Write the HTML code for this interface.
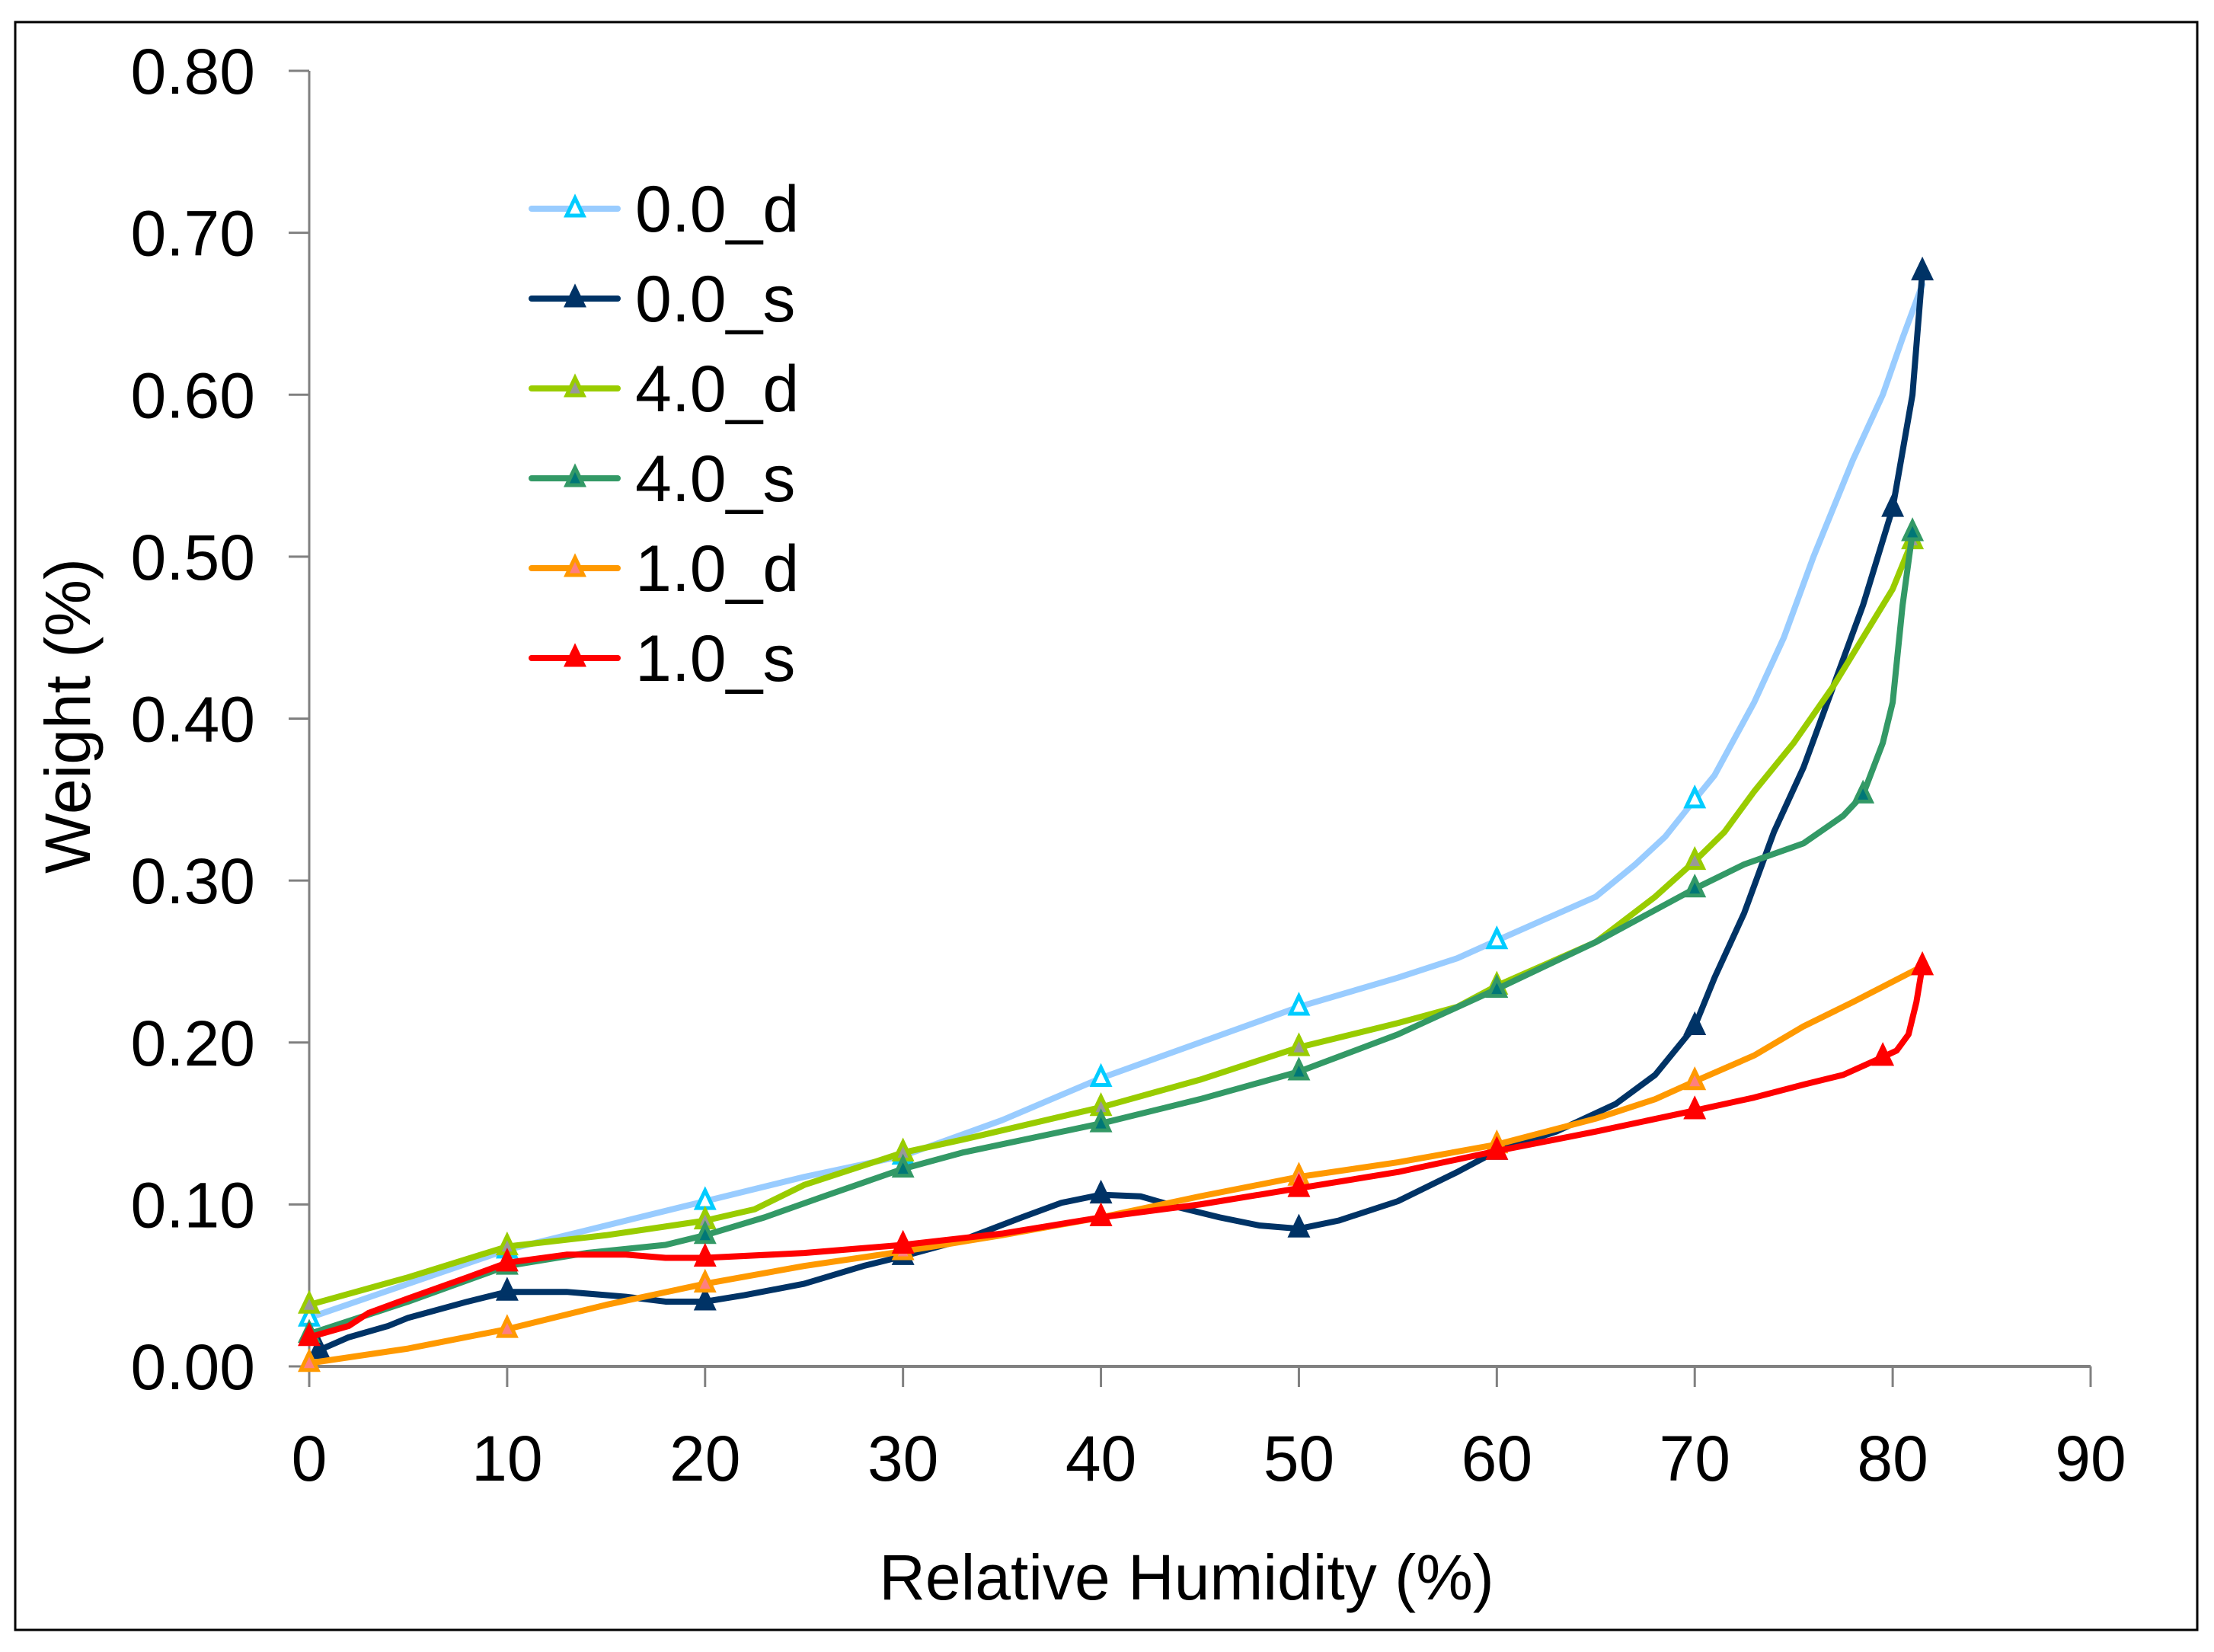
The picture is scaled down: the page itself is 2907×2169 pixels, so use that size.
<!DOCTYPE html>
<html><head><meta charset="utf-8"><style>
html,body{margin:0;padding:0;background:#fff}
svg{display:block;font-family:"Liberation Sans",Arial,sans-serif}
</style></head><body>
<svg id="chart" width="2907" height="2169" viewBox="0 0 2907 2169" xmlns="http://www.w3.org/2000/svg">
<rect x="20" y="29" width="2865" height="2111" fill="#fff" stroke="#000" stroke-width="3"/>
<g id="axes"></g>
<g id="series"></g>
<g id="legend"></g>
<text x="1558" y="2100" font-size="84" text-anchor="middle">Relative Humidity (%)</text>
<text x="0" y="0" font-size="84" text-anchor="middle" transform="translate(118,940) rotate(-90)">Weight (%)</text>
</svg>
<script>
const xTicks=[0,10,20,30,40,50,60,70,80,90];
const yTicks=[0,0.1,0.2,0.3,0.4,0.5,0.6,0.7,0.8];
const yTickLabels=["0.00","0.10","0.20","0.30","0.40","0.50","0.60","0.70","0.80"];
const seriesNames=["0.0_d","0.0_s","4.0_d","4.0_s","1.0_d","1.0_s"];
const s00dX=[0,10,20,25,30,35,40,45,50,55,58,60,65,67,68.5,70,71,73,74.5,76,78,79.5,80.5,81.5];
const s00dY=[0.03,0.072,0.102,0.117,0.13,0.152,0.178,0.2,0.222,0.24,0.252,0.263,0.29,0.31,0.327,0.35,0.365,0.41,0.45,0.5,0.56,0.6,0.635,0.668];
const s00sX=[0.5,2,4,5,8,10,13,16,18,20,22,25,28,30,33,36,38,40,42,44,46,48,50,52,55,58,60,63,66,68,70,71,72.5,74,75.5,77,78.5,80,81,81.5];
const s00sY=[0.01,0.018,0.025,0.03,0.04,0.046,0.046,0.043,0.04,0.04,0.044,0.051,0.062,0.068,0.078,0.092,0.101,0.106,0.105,0.098,0.092,0.087,0.085,0.09,0.102,0.12,0.133,0.145,0.162,0.18,0.21,0.24,0.28,0.33,0.37,0.42,0.47,0.53,0.6,0.676];
const s40dX=[0,5,10,15,20,22.5,25,30,33,40,45,50,55,58,60,65,68,70,71.5,73,75,77,78.5,80,81];
const s40dY=[0.038,0.055,0.074,0.081,0.09,0.097,0.112,0.132,0.14,0.16,0.177,0.197,0.212,0.222,0.235,0.262,0.29,0.312,0.33,0.355,0.385,0.42,0.45,0.48,0.51];
const s40sX=[0,5,10,14,18,20,23,26,30,33,40,45,50,55,60,65,70,72.5,75.5,77.5,78.5,79.5,80,80.5,81];
const s40sY=[0.02,0.04,0.062,0.07,0.075,0.081,0.092,0.105,0.122,0.132,0.15,0.165,0.182,0.205,0.233,0.262,0.295,0.31,0.323,0.34,0.353,0.385,0.41,0.47,0.515];
const s10dX=[0,5,10,15,20,25,30,35,40,45,50,55,60,65,68,70,73,75.5,78,81.5];
const s10dY=[0.002,0.011,0.023,0.038,0.051,0.062,0.071,0.081,0.092,0.105,0.117,0.126,0.137,0.153,0.165,0.176,0.192,0.21,0.225,0.247];
const s10sX=[0,2,3,5,8,10,13,16,18,20,25,30,35,40,45,50,55,60,65,70,73,75.5,77.5,79.5,80.2,80.8,81.2,81.5];
const s10sY=[0.018,0.025,0.033,0.042,0.055,0.064,0.069,0.069,0.067,0.067,0.07,0.075,0.082,0.092,0.1,0.11,0.12,0.133,0.145,0.158,0.166,0.174,0.18,0.191,0.195,0.205,0.225,0.247];
const markerX=[[0,10,20,30,40,50,60,70],[0.5,10,20,30,40,50,60,70,80,81.5],[0,10,20,30,40,50,60,70,81],[0,10,20,30,40,50,60,70,78.5,81],[0,10,20,30,40,50,60,70,81.5],[0,10,20,30,40,50,60,70,79.5,81.5]];

const NS="http://www.w3.org/2000/svg";
const X0=406,X1=2745,Y0=1794,Y1=93;
const xs=v=>X0+(v-0)/90*(X1-X0);
const ys=v=>Y0-(v-0)/0.8*(Y0-Y1);
function mk(tag,attrs,parent){const e=document.createElementNS(NS,tag);for(const k in attrs)e.setAttribute(k,attrs[k]);parent.appendChild(e);return e;}
const axes=document.getElementById('axes');
let a=mk('line',{x1:X0,y1:Y1,x2:X0,y2:Y0,stroke:'#808080','stroke-width':3},axes);


a=mk('line',{x1:X0,y1:Y0,x2:X1,y2:Y0,stroke:'#808080','stroke-width':4},axes);


yTicks.forEach((t,i)=>{
  const y=ys(t);
  const l=mk('line',{x1:X0-27,y1:y,x2:X0,y2:y,stroke:'#808080','stroke-width':3},axes);
  
  
  const tx=mk('text',{x:335,y:y+30,'font-size':84,'text-anchor':'end'},axes);
  tx.textContent=yTickLabels[i];
  
  
});
xTicks.forEach(t=>{
  const x=xs(t);
  const l=mk('line',{x1:x,y1:Y0,x2:x,y2:Y0+27,stroke:'#808080','stroke-width':3},axes);
  
  
  const tx=mk('text',{x:x,y:1944,'font-size':84,'text-anchor':'middle'},axes);
  tx.textContent=String(t);
  
  
});
const colors=['#99CCFF','#003366','#99CC00','#339966','#FF9900','#FF0000'];
const mfill=['#fff','#003366','#999999','#007777','#FF7F7F','#FF0000'];
const mstroke=['#00CCFF','#003366','#99CC00','#339966','#FF9900','#FF0000'];
const data=[[s00dX,s00dY],[s00sX,s00sY],[s40dX,s40dY],[s40sX,s40sY],[s10dX,s10dY],[s10sX,s10sY]];
const sg=document.getElementById('series');
function tri(cx,cy,i,parent){
  const p=mk('path',{d:`M${cx},${cy-14} L${cx+11},${cy+9} L${cx-11},${cy+9} Z`,fill:mfill[i],stroke:mstroke[i],'stroke-width':5,'stroke-linejoin':'miter'},parent);
  
  
}
data.forEach((d,i)=>{
  const g=mk('g',{},sg);
  
  
  const pts=d[0].map((x,j)=>xs(x)+','+ys(d[1][j])).join(' ');
  const pl=mk('polyline',{points:pts,fill:'none',stroke:colors[i],'stroke-width':8,'stroke-linejoin':'round','stroke-linecap':'round'},g);
  
  
  d[0].forEach((x,j)=>{
    if(markerX[i].includes(x)) tri(xs(x),ys(d[1][j]),i,g);
  });
});
const lg=document.getElementById('legend');
seriesNames.forEach((n,i)=>{
  const y=274+i*118;
  const g=mk('g',{},lg);
  
  
  mk('line',{x1:698,y1:y,x2:811,y2:y,stroke:colors[i],'stroke-width':8,'stroke-linecap':'round'},g);
  tri(755,y,i,g);
  const t=mk('text',{x:834,y:y+30,'font-size':86},g);
  t.textContent=n;
});
</script>
</body></html>
